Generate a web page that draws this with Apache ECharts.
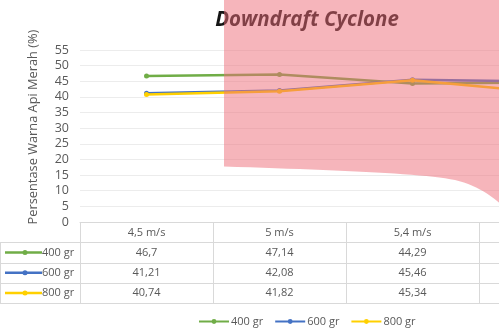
<!DOCTYPE html>
<html>
<head>
<meta charset="utf-8">
<script src="https://cdn.jsdelivr.net/npm/echarts@6/dist/echarts.min.js"></script>
<style>
  html, body { margin: 0; padding: 0; background: #fff; overflow: hidden; width: 499px; height: 332px; }
  #chart { width: 640px; height: 332px; }
</style>
</head>
<body>
<div id="chart"></div>
<script>
// Air speed categories (the last column runs past the right edge)
const categories = ['4,5 m/s', '5 m/s', '5,4 m/s', '5,8 m/s'];
const seriesNames = ['400 gr', '600 gr', '800 gr'];
const values400 = [46.7, 47.14, 44.29, 44.6];
const values600 = [41.21, 42.08, 45.46, 44.9];
const values800 = [40.74, 41.82, 45.34, 41.4];
const yTicks = { min: 0, max: 55, interval: 5 };

const colors = ['#70AD47', '#4472C4', '#FFD000'];
const FONT = '"Open Sans", Lato, sans-serif';
const TXT = '#595959';
const allValues = [values400, values600, values800];

const fmt = v => String(v).replace('.', ',');

const chart = echarts.init(document.getElementById('chart'), null, { renderer: 'canvas' });

chart.setOption({
  animation: false,
  backgroundColor: '#fff',
  textStyle: { fontFamily: FONT },
  grid: { left: 80, top: 50, right: 28, height: 172 },
  xAxis: {
    type: 'category',
    data: categories,
    boundaryGap: true,
    axisLine: { show: true, lineStyle: { color: '#d9d9d9', width: 1 } },
    axisTick: { show: false },
    axisLabel: { show: false },
    splitLine: { show: false }
  },
  yAxis: {
    type: 'value',
    min: yTicks.min, max: yTicks.max, interval: yTicks.interval,
    axisLine: { show: false },
    axisTick: { show: false },
    axisLabel: { color: TXT, fontSize: 12.5, fontFamily: FONT, margin: 11 },
    splitLine: { lineStyle: { color: '#ececec', width: 1 } }
  },
  legend: {
    left: 198, top: 316, padding: 0,
    itemWidth: 30, itemHeight: 6, itemGap: 11,
    textStyle: { color: TXT, fontSize: 11, fontFamily: FONT, padding: [0, 0, 0, -3] },
    data: seriesNames
  },
  series: seriesNames.map((name, i) => ({
    name,
    type: 'line',
    data: allValues[i],
    symbol: 'circle',
    symbolSize: 5,
    z: 2 + i,
    lineStyle: { color: colors[i], width: 2.5 },
    itemStyle: { color: colors[i] }
  }))
});

// Data table beneath the plot, aligned with the category axis
const x0 = chart.convertToPixel({ xAxisIndex: 0 }, 0);
const x1 = chart.convertToPixel({ xAxisIndex: 0 }, 1);
const step = x1 - x0;
const axisY = chart.convertToPixel({ yAxisIndex: 0 }, 0);
const rowH = 20.3;
const tableBottom = axisY + rowH * 4;
const gfx = [];
const lineColor = '#d9d9d9';
const RIGHT = 640;
const tableFont = '11px ' + FONT;

// horizontal rules
for (let r = 1; r <= 4; r++) {
  const y = Math.round(axisY + rowH * r) + 0.5;
  gfx.push({ type: 'line', shape: { x1: 0, y1: y, x2: RIGHT, y2: y },
    style: { stroke: lineColor, lineWidth: 1 }, silent: true });
}
// vertical rules at column boundaries
categories.forEach((c, k) => {
  const xb = Math.round(x0 - step / 2 + k * step) + 0.5;
  gfx.push({ type: 'line', shape: { x1: xb, y1: axisY, x2: xb, y2: tableBottom },
    style: { stroke: lineColor, lineWidth: 1 }, silent: true });
});
// left border of the series-key column
gfx.push({ type: 'line', shape: { x1: 0.5, y1: axisY + rowH, x2: 0.5, y2: tableBottom },
  style: { stroke: lineColor, lineWidth: 1 }, silent: true });

// header row
categories.forEach((c, k) => {
  gfx.push({ type: 'text', x: x0 + k * step, y: axisY + rowH * 0.5 + 1,
    style: { text: c, fill: TXT, font: tableFont, align: 'center', verticalAlign: 'middle' } });
});
// value rows with keys
seriesNames.forEach((name, i) => {
  const cy = axisY + rowH * (i + 1.5);
  gfx.push({ type: 'line', shape: { x1: 5, y1: cy, x2: 42, y2: cy },
    style: { stroke: colors[i], lineWidth: 2.5 } });
  gfx.push({ type: 'circle', shape: { cx: 25, cy: cy, r: 2.5 }, style: { fill: colors[i] } });
  gfx.push({ type: 'text', x: 42, y: cy,
    style: { text: name, fill: TXT, font: tableFont, align: 'left', verticalAlign: 'middle' } });
  allValues[i].forEach((v, k) => {
    gfx.push({ type: 'text', x: x0 + k * step, y: cy,
      style: { text: fmt(v), fill: TXT, font: tableFont, align: 'center', verticalAlign: 'middle' } });
  });
});

// rotated value-axis title
gfx.push({ type: 'text', x: 33, y: 127, rotation: Math.PI / 2,
  style: { text: 'Persentase Warna Api Merah (%)', fill: TXT, font: '12.8px ' + FONT,
    align: 'center', verticalAlign: 'middle' } });

// chart title
gfx.push({ type: 'text', x: 307, y: 20, z: 10,
  style: { text: 'Downdraft Cyclone', fill: '#151515', font: 'italic bold 20.5px ' + FONT,
    align: 'center', verticalAlign: 'middle' } });

// translucent pink highlight panel with a curled lower edge
function cubic(p0, p1, p2, p3, n) {
  const pts = [];
  for (let s = 0; s <= n; s++) {
    const t = s / n, u = 1 - t;
    pts.push([
      u * u * u * p0[0] + 3 * u * u * t * p1[0] + 3 * u * t * t * p2[0] + t * t * t * p3[0],
      u * u * u * p0[1] + 3 * u * u * t * p1[1] + 3 * u * t * t * p2[1] + t * t * t * p3[1]
    ]);
  }
  return pts;
}
const edge = cubic([224, 166.5], [330, 170], [420, 173], [455, 180], 24)
  .concat(cubic([455, 180], [480, 186], [496, 198], [515, 218], 16).slice(1));
const panel = [[224, -5], [RIGHT, -5], [RIGHT, 240]].concat(edge.slice().reverse());
gfx.push({ type: 'polygon', z: 100, silent: true,
  shape: { points: panel },
  style: { fill: 'rgba(237,108,120,0.5)', stroke: null } });

chart.setOption({ graphic: gfx });
</script>
</body>
</html>
